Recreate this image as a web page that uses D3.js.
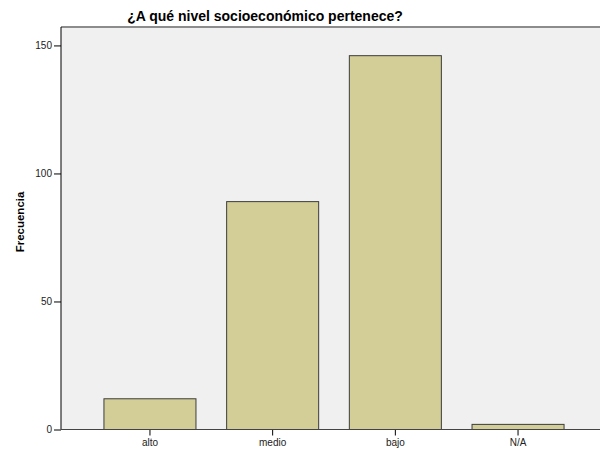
<!DOCTYPE html>
<html>
<head>
<meta charset="utf-8">
<script src="https://cdn.jsdelivr.net/npm/d3@7/dist/d3.min.js"></script>
<style>
  body { margin: 0; background: #fff; }
  text { font-family: "Liberation Sans", Arial, sans-serif; }
</style>
</head>
<body>
<div id="chart"></div>
<script>
// datos del gráfico
const categories = ['alto', 'medio', 'bajo', 'N/A'];
const counts = [12, 89, 146, 2];
const yTicks = [0, 50, 100, 150];

const width = 600, height = 451;
const plot = { left: 61, right: 607, top: 27, bottom: 429.5 };

const svg = d3.select('#chart').append('svg')
    .attr('width', width)
    .attr('height', height);

// fondo del área de trazado
svg.append('rect')
    .attr('x', plot.left).attr('y', plot.top)
    .attr('width', plot.right - plot.left)
    .attr('height', plot.bottom - plot.top)
    .attr('fill', '#f0f0f0');

svg.append('line')
    .attr('x1', plot.left).attr('x2', width)
    .attr('y1', plot.top).attr('y2', plot.top)
    .attr('stroke', '#8c8c8c').attr('stroke-width', 2);

const x = d3.scaleBand()
    .domain(categories)
    .range([plot.left, plot.right])
    .paddingInner(0.25)
    .paddingOuter(0.35);

const y = d3.scaleLinear()
    .domain([0, 157.2])
    .range([plot.bottom, plot.top]);

// barras
svg.selectAll('.bar')
    .data(categories)
    .join('rect')
    .attr('class', 'bar')
    .attr('x', d => x(d))
    .attr('y', (d, i) => y(counts[i]))
    .attr('width', x.bandwidth())
    .attr('height', (d, i) => y(0) - y(counts[i]))
    .attr('fill', '#d3ce97')
    .attr('stroke', '#3c3c3c')
    .attr('stroke-width', 1);

// ejes
const yAxis = d3.axisLeft(y).tickValues(yTicks).tickSize(7).tickPadding(2);
const yG = svg.append('g')
    .attr('transform', `translate(${plot.left},0)`)
    .call(yAxis);
yG.select('.domain').remove();
yG.append('line')
    .attr('x1', 0).attr('x2', 0)
    .attr('y1', plot.top).attr('y2', plot.bottom)
    .attr('stroke', '#000');

const xAxis = d3.axisBottom(x).tickSize(6).tickPadding(3);
const xG = svg.append('g')
    .attr('transform', `translate(0,${plot.bottom})`)
    .call(xAxis);
xG.select('.domain').remove();
xG.append('line')
    .attr('x1', plot.left).attr('x2', width)
    .attr('y1', 0).attr('y2', 0)
    .attr('stroke', '#444');

svg.selectAll('.tick line').attr('stroke', '#000');
svg.selectAll('.tick text')
    .attr('fill', '#222')
    .style('font-size', '10px')
    .style('font-family', '"Liberation Sans", Arial, sans-serif');

// títulos
svg.append('text')
    .attr('x', 265).attr('y', 21)
    .attr('text-anchor', 'middle')
    .style('font-size', '14px')
    .style('font-weight', 'bold')
    .text('¿A qué nivel socioeconómico pertenece?');

svg.append('text')
    .attr('transform', 'translate(24,222) rotate(-90)')
    .attr('text-anchor', 'middle')
    .style('font-size', '11.5px')
    .style('font-weight', 'bold')
    .text('Frecuencia');
</script>
</body>
</html>
